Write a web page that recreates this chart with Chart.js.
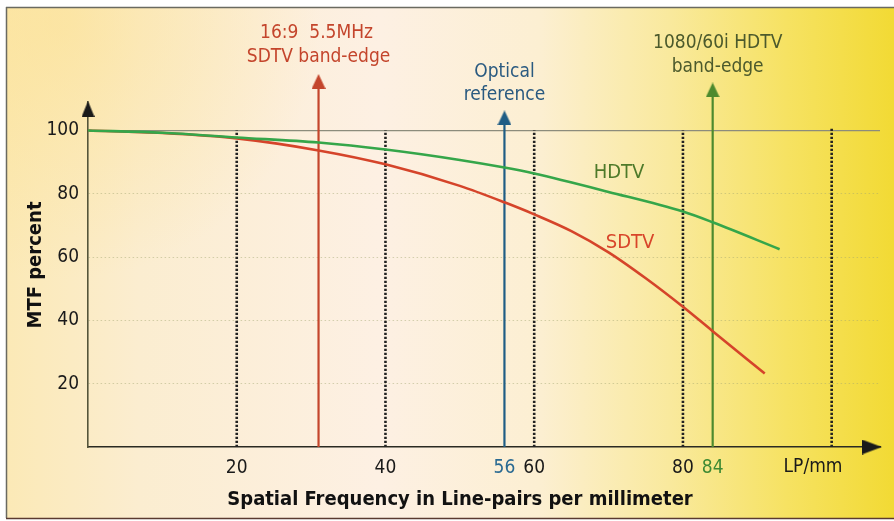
<!DOCTYPE html>
<html><head><meta charset="utf-8">
<script src="https://cdn.jsdelivr.net/npm/chart.js@4.4.1/dist/chart.umd.min.js"></script>
<style>html,body{margin:0;padding:0;background:#fff;} #wrap{width:894px;height:521px;}</style>
</head><body><div id="wrap"><canvas id="c" width="894" height="521"></canvas></div>
<script>
// ---- data ----
const hdtvFreqs = [0,10,20,31,40,50,56,60,70,80,84,93];
const hdtvMTF   = [100,99.3,97.8,96.2,94.0,90.7,88.3,86.4,80.6,74.4,71.0,62.5];
const sdtvFreqs = [0,10,20,31,40,50,56,60,65,70,75,80,84,91];
const sdtvMTF   = [100,99.2,97.5,93.7,89.3,82.5,77.3,73.5,68.2,61.5,53.3,44.3,36.6,23.2];
const refFreqs  = [20,40,60,80,100];
const refTops   = [100,100,100,100,101];
const xTickValues = [20,40,56,60,80,84];
const xTickLabels = ["20","40","56","60","80","84"];
const unitLabel = "LP/mm";
const yTickValues = [20,40,60,80,100];
const markerFreqs = [31,56,84];
const markerTops  = [115.5,104,112.8];
const markerLabels = [["16:9  5.5MHz","SDTV band-edge"],["Optical","reference"],["1080/60i HDTV","band-edge"]];
const seriesNames = ["HDTV","SDTV"];
const xTitle = "Spatial Frequency in Line-pairs per millimeter";
const yTitle = "MTF percent";

const FONT = '"Liberation Sans Narrow","DejaVu Sans Condensed","Arial Narrow",sans-serif';
const RED = '#c4452c', BLUE = '#1f5d85';

function arrowImg(color, w, h){
  const c = document.createElement('canvas'); c.width = w; c.height = h;
  const g = c.getContext('2d'); g.fillStyle = color;
  g.beginPath(); g.moveTo(w/2,0); g.lineTo(w,h); g.lineTo(0,h); g.closePath(); g.fill();
  return c;
}

const datasets = [];
refFreqs.forEach((f,i)=>{
  datasets.push({data:[{x:f,y:0},{x:f,y:refTops[i]}], borderColor:'#222', borderWidth:2.6,
    borderDash:[2.2,1.8], pointRadius:0, clip:false, order:5});
});
const mColors = [RED, BLUE, '#4d8a2e'];
markerFreqs.forEach((f,i)=>{
  const img = arrowImg(mColors[i], 14, 15);
  datasets.push({data:[{x:f,y:0},{x:f,y:markerTops[i]}], borderColor:mColors[i], borderWidth:2.2,
    pointStyle:img, pointRadius:[0,40], clip:false, order:3});
});
datasets.push({label:seriesNames[0], data:hdtvFreqs.map((x,i)=>({x, y:hdtvMTF[i]})),
  borderColor:'#35a64a', borderWidth:2.6, pointRadius:0, cubicInterpolationMode:'monotone', order:1});
datasets.push({label:seriesNames[1], data:sdtvFreqs.map((x,i)=>({x, y:sdtvMTF[i]})),
  borderColor:'#d5442a', borderWidth:2.6, pointRadius:0, cubicInterpolationMode:'monotone', order:1});
// axis arrowheads
datasets.push({data:[{x:0,y:106.8}], pointStyle:arrowImg('#1a1a1a',13,16), pointRadius:[40], showLine:false, clip:false, order:0});
datasets.push({data:[{x:105.4,y:0}], pointStyle:arrowImg('#1a1a1a',15,20), rotation:90, pointRadius:[40], showLine:false, clip:false, order:0});

const bgPlugin = {
  id:'bg',
  beforeDraw(chart){
    const ctx = chart.ctx;
    ctx.save();
    ctx.fillStyle = '#fff'; ctx.fillRect(0,0,894,521);
    const g = ctx.createLinearGradient(6,0,894,0);
    g.addColorStop(0,'#fbe9b6'); g.addColorStop(0.15,'#fbedd0'); g.addColorStop(0.42,'#fdf0e3');
    g.addColorStop(0.6,'#fcefd2'); g.addColorStop(0.75,'#f9e99c'); g.addColorStop(0.88,'#f6e262'); g.addColorStop(1,'#f2da34');
    ctx.fillStyle = g; ctx.fillRect(6,7,888,511);
    const r = ctx.createRadialGradient(60,20,10,60,20,260);
    r.addColorStop(0,'rgba(252,224,140,0.55)'); r.addColorStop(1,'rgba(252,224,140,0)');
    ctx.fillStyle = r; ctx.fillRect(6,7,888,511);
    ctx.strokeStyle = '#6a6a60'; ctx.lineWidth = 1.5;
    ctx.beginPath(); ctx.moveTo(6,7.5); ctx.lineTo(894,7.5); ctx.moveTo(6.5,7); ctx.lineTo(6.5,518); ctx.stroke();
    ctx.strokeStyle = '#5a3a30'; ctx.beginPath(); ctx.moveTo(6,518.5); ctx.lineTo(894,518.5); ctx.stroke();
    ctx.restore();
  }
};

const textPlugin = {
  id:'texts',
  afterDraw(chart){
    const ctx = chart.ctx, xs = chart.scales.x;
    ctx.save();
    ctx.textAlign = 'center'; ctx.textBaseline = 'middle';
    ctx.font = '19px ' + FONT;
    const colors = [RED, '#2a5a80', '#4c5a2c'];
    const ys = [[33,57],[72,95],[43,67]];
    markerFreqs.forEach((f,i)=>{
      const px = xs.getPixelForValue(f);
      ctx.fillStyle = colors[i];
      markerLabels[i].forEach((t,j)=>ctx.fillText(t, px + (i===0 && j===0 ? -2 : 0) + (i===2?5:0), ys[i][j]));
    });
    ctx.fillStyle = '#1a1a1a';
    ctx.fillText(unitLabel, 813, 467);
    ctx.font = '20px ' + FONT;
    ctx.fillStyle = '#4e7a2a'; ctx.fillText(seriesNames[0], 619, 173);
    ctx.fillStyle = '#d8452a'; ctx.fillText(seriesNames[1], 630, 243);
    ctx.font = 'bold 20px ' + FONT;
    ctx.fillStyle = '#111';
    ctx.fillText(xTitle, 460, 500);
    ctx.translate(36, 265); ctx.rotate(-Math.PI/2);
    ctx.fillText(yTitle, 0, 0);
    ctx.restore();
  }
};

new Chart(document.getElementById('c'), {
  type:'line',
  data:{datasets},
  options:{
    responsive:false, animation:false, events:[],
    layout:{autoPadding:false, padding:{top:102, right:14, left:0, bottom:0}},
    plugins:{legend:{display:false}, tooltip:{enabled:false}},
    scales:{
      x:{type:'linear', min:0, max:106.5,
        afterFit(s){ s.height = 74; },
        afterBuildTicks(s){ s.ticks = xTickValues.map(v=>({value:v})); },
        grid:{display:false, drawTicks:false},
        border:{display:true, color:'#2a2a22', width:1.6},
        ticks:{autoSkip:false, maxRotation:0, padding:10,
          font:{family:FONT, size:19},
          color:(c)=>{ const v=c.tick && c.tick.value; return v===56?'#2a6a92':(v===84?'#3f8a34':'#1a1a1a'); },
          callback:(v,i)=>xTickLabels[i]}
      },
      y:{type:'linear', min:0, max:109,
        afterFit(s){ s.width = 88; },
        afterBuildTicks(s){ s.ticks = yTickValues.map(v=>({value:v})); },
        grid:{drawTicks:false,
          color:(c)=> (c.tick && c.tick.value===100) ? '#8c8c7c' : 'rgba(160,165,110,0.45)',
          lineWidth:(c)=> (c.tick && c.tick.value===100) ? 1.2 : 1},
        border:{display:true, color:'#55553a', width:1.6,
          dash:(c)=> (c.tick && c.tick.value===100) ? [] : [1.5,2.5]},
        ticks:{padding:9, font:{family:FONT, size:19}, color:'#1a1a1a'}
      }
    }
  },
  plugins:[bgPlugin, textPlugin]
});
</script></body></html>
